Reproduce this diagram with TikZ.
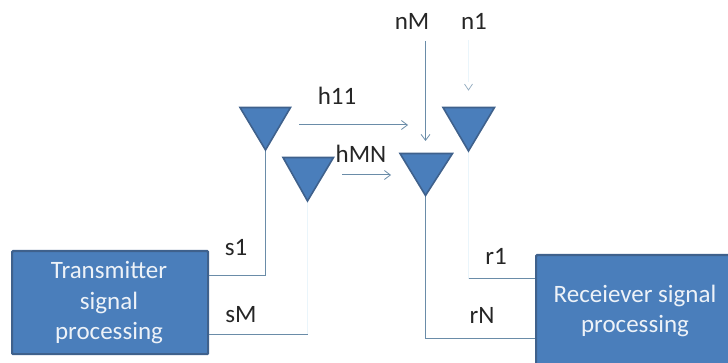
\documentclass[tikz,border=0pt]{standalone}
\usepackage{fontspec}
\setmainfont{Carlito}
\usetikzlibrary{arrows.meta}
\definecolor{boxfill}{HTML}{4A7EBB}
\definecolor{boxedge}{HTML}{3F618C}
\definecolor{wire}{HTML}{6A8CA8}
\definecolor{faint}{HTML}{EAF5FB}
\tikzset{
  x=1pt,y=-1pt,
  procbox/.style={draw=boxedge,line width=2.2pt,fill=boxfill,rounded corners=1pt,anchor=north west,inner sep=0pt},
  boxtext/.style={text=white!90!boxfill,align=center,font=\fontsize{25}{30.5}\selectfont,inner sep=0pt},
  antenna/.style={draw=boxedge,line width=1.6pt,fill=boxfill,line join=miter},
  wireline/.style={draw=wire,line width=1pt},
  faintline/.style={draw=faint,line width=1pt},
  arrowline/.style={wireline,-{Straight Barb[length=6pt,width=9pt,line width=0.8pt]}},
  lbl/.style={font=\fontsize{25}{28}\selectfont,text=black!85,inner sep=0pt}
}
\begin{document}
\begin{tikzpicture}
\useasboundingbox (0,0) rectangle (728,363);
% boxes
\node[procbox,minimum width=196pt,minimum height=103pt] (tx) at (11,250) {};
\node[procbox,minimum width=200pt,minimum height=112pt] (rx) at (535,254) {};
\node[boxtext] (txt) at (109,303) {Transmitter\\signal\\processing};
\node[boxtext] (rxt) at (635,311) {Receiever signal\\processing};
% antenna corners
\coordinate (a1l) at (240,107.5); \coordinate (a1r) at (290.5,107.5); \coordinate (a1) at (265.5,150);
\coordinate (a2l) at (283,157.5); \coordinate (a2r) at (333.5,157.5); \coordinate (a2) at (307.5,201);
\coordinate (a3l) at (400,153.5); \coordinate (a3r) at (452.5,153.5); \coordinate (a3) at (425.5,195.5);
\coordinate (a4l) at (443,107.5); \coordinate (a4r) at (494.5,107.5); \coordinate (a4) at (468.5,151);
% wires
\coordinate (s1c) at (a1 |- 0,276);
\coordinate (sMc) at (a2 |- 0,334);
\coordinate (r1c) at (a4 |- 0,279);
\coordinate (rNc) at (a3 |- 0,338);
\draw[wireline] (tx.east |- s1c) -- (s1c) -- (a1);
\draw[faintline] (sMc) -- (a2);
\draw[wireline] (tx.east |- sMc) -- (sMc);
\draw[faintline] (r1c) -- (a4);
\draw[wireline] (r1c) -- (rx.west |- r1c);
\draw[wireline] (a3) -- (rNc) -- (rx.west |- rNc);
% antennas
\draw[antenna] (a1l) -- (a1r) -- (a1) -- cycle;
\draw[antenna] (a2l) -- (a2r) -- (a2) -- cycle;
\draw[antenna] (a3l) -- (a3r) -- (a3) -- cycle;
\draw[antenna] (a4l) -- (a4r) -- (a4) -- cycle;
% labels
\node[lbl] (nM) at (412,21) {nM};
\node[lbl] (n1) at (474,21) {n1};
\node[lbl] (h11) at (337,96) {h11};
\node[lbl] (hMN) at (361,154) {hMN};
\node[lbl] (s1) at (236,248) {s1};
\node[lbl] (sM) at (241,315) {sM};
\node[lbl] (r1) at (496,256) {r1};
\node[lbl] (rN) at (482,315) {rN};
% arrows
\coordinate (h11s) at (299,125); \coordinate (h11e) at (408,125);
\coordinate (hMNs) at (342,175); \coordinate (hMNe) at (391,175);
\coordinate (nMs) at (425.5,41); \coordinate (nMe) at (425.5,141);
\coordinate (n1s) at (468.5,40); \coordinate (n1e) at (468.5,90);
\coordinate (n1m) at (468.5,82);
\draw[arrowline] (h11s) -- (h11e);
\draw[arrowline] (hMNs) -- (hMNe);
\draw[arrowline] (nMs) -- (nMe);
\draw[faintline] (n1s) -- (n1m);
\draw[draw=wire!70,line width=0.8pt] ([xshift=-4pt,yshift=6pt]n1e) -- (n1e) -- ([xshift=4pt,yshift=6pt]n1e);
\end{tikzpicture}
\end{document}
